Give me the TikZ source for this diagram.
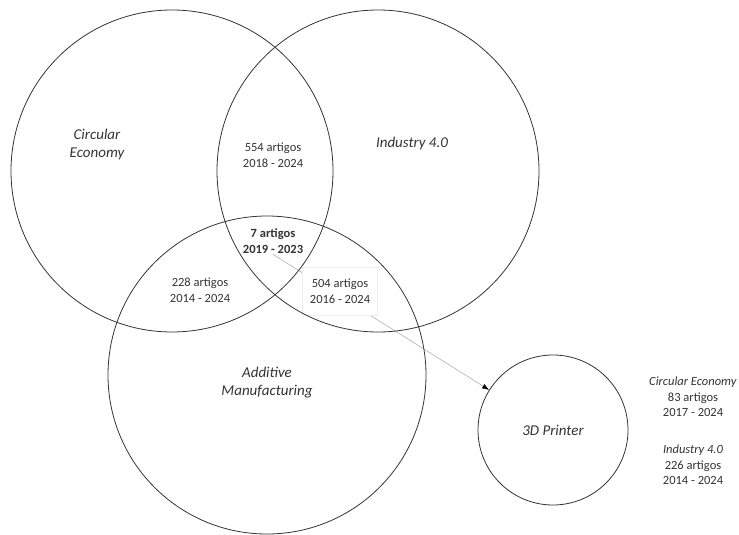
\documentclass[tikz,border=0pt]{standalone}
\usepackage{fontspec}
\setmainfont{Carlito}
\usetikzlibrary{arrows.meta, backgrounds}

\tikzset{
  venn/.style={circle, draw=black!80, line width=0.8pt, inner sep=0pt},
  count/.style={align=center, text=black!80, inner sep=1pt,
    font=\fontsize{12.5}{15.5}\selectfont},
  topic/.style={count, font=\fontsize{15}{18}\selectfont\itshape},
}

\begin{document}
\begin{tikzpicture}[x=1pt, y=-1pt]
  \useasboundingbox (0,0) rectangle (739,535);
  % the three sets and the printer
  \node[venn, minimum size=322pt] (CE) at (172,171) {};
  \node[venn, minimum size=322pt] (I4) at (378,171) {};
  \node[venn, minimum size=318pt] (AM) at (267,375) {};
  \node[venn, topic, minimum size=150pt] (PR) at (553,430) {3D Printer};
  % names of the sets
  \node[topic] (tCE) at (97,144) {Circular\\Economy};
  \node[topic] (tI4) at (412,143) {Industry 4.0};
  \node[topic] (tAM) at (267,383) {Additive\\Manufacturing};
  % overlaps
  \node[count] (n554) at (273,155) {554 artigos\\2018 - 2024};
  \node[count, font=\fontsize{12.5}{15.5}\selectfont\bfseries] (n7) at (273,241) {7 artigos\\2019 - 2023};
  \node[count] (n228) at (200,290) {228 artigos\\2014 - 2024};
  \begin{scope}[on background layer]
    \draw[black!35, line width=0.5pt, -{Latex[length=7pt, width=5pt, color=black]}] (n7.south) -- (PR);
    \node[count, fill=white, draw=black!7, minimum width=75pt, minimum height=48pt] (n504) at (340,291) {504 artigos\\2016 - 2024};
  \end{scope}
  % side notes
  \node[count] (lCE) at (693,397) {\textit{Circular Economy}\\83 artigos\\2017 - 2024};
  \node[count] (lI4) at (693,465) {\textit{Industry 4.0}\\226 artigos\\2014 - 2024};
\end{tikzpicture}
\end{document}
